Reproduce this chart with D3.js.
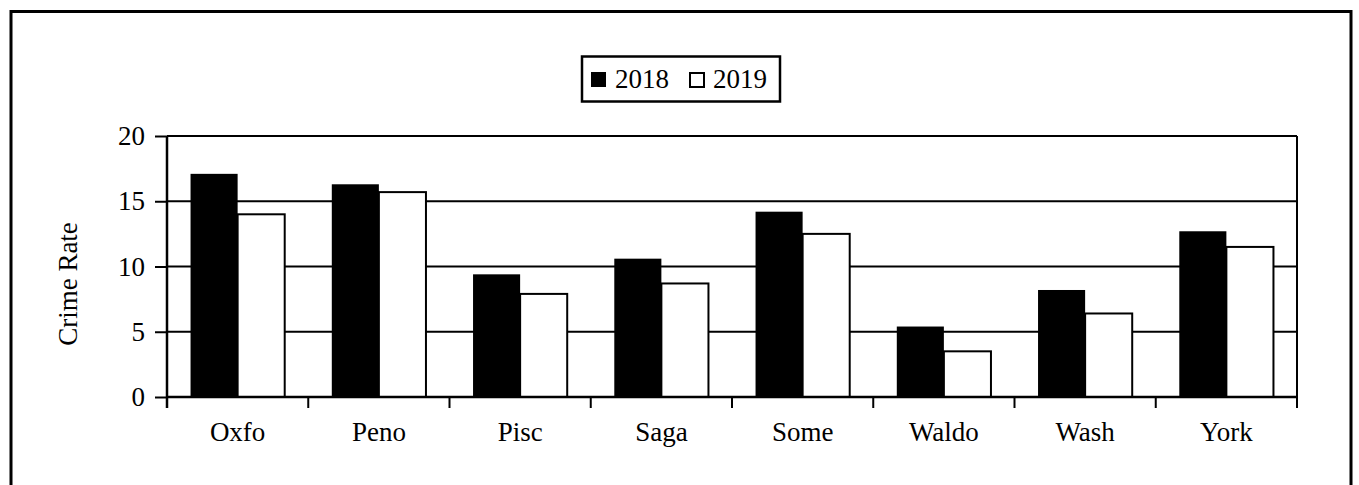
<!DOCTYPE html>
<html>
<head>
<meta charset="utf-8">
<script src="https://cdn.jsdelivr.net/npm/d3@7/dist/d3.min.js"></script>
<style>
  html, body { margin: 0; padding: 0; background: #fff; }
  svg { display: block; }
  text { font-family: "Liberation Serif", "Times New Roman", serif; fill: #000; }
</style>
</head>
<body>
<svg id="chart" width="1359" height="485"></svg>
<script>
const categories = ["Oxfo", "Peno", "Pisc", "Saga", "Some", "Waldo", "Wash", "York"];
const seriesNames = ["2018", "2019"];
const values2018 = [17.1, 16.3, 9.4, 10.6, 14.2, 5.4, 8.2, 12.7];
const values2019 = [14.0, 15.7, 7.9, 8.7, 12.5, 3.5, 6.4, 11.5];
const yTicks = [0, 5, 10, 15, 20];
const yLabel = "Crime Rate";

const seriesValues = [values2018, values2019];
const seriesFill = ["#000", "#fff"];

const svg = d3.select("#chart");
const W = 1359, H = 485;
const plot = { left: 167, top: 136, right: 1297, bottom: 397 };
const FS = 27;

// outer border
svg.append("rect")
  .attr("x", 11).attr("y", 11.5)
  .attr("width", 1340).attr("height", 520)
  .attr("fill", "none").attr("stroke", "#000").attr("stroke-width", 3);

const x = d3.scaleBand().domain(categories).range([plot.left, plot.right]).padding(0);
const bw = x.bandwidth();
const xs = d3.scaleBand().domain(seriesNames).range([bw / 6, bw * 5 / 6]).padding(0);
const y = d3.scaleLinear().domain([0, 20]).range([plot.bottom, plot.top]);

// gridlines
svg.append("g").selectAll("line").data(yTicks.filter(t => t > 0)).join("line")
  .attr("x1", plot.left).attr("x2", plot.right)
  .attr("y1", d => y(d)).attr("y2", d => y(d))
  .attr("stroke", "#000").attr("stroke-width", 2);

// right border of plot
svg.append("line")
  .attr("x1", plot.right).attr("x2", plot.right)
  .attr("y1", plot.top).attr("y2", plot.bottom)
  .attr("stroke", "#000").attr("stroke-width", 2);

// bars
const data = [];
categories.forEach((c, i) => {
  seriesNames.forEach((s, j) => data.push({ c, s, j, v: seriesValues[j][i] }));
});
svg.append("g").selectAll("rect").data(data).join("rect")
  .attr("x", d => x(d.c) + xs(d.s))
  .attr("y", d => y(d.v))
  .attr("width", xs.bandwidth())
  .attr("height", d => y(0) - y(d.v))
  .attr("fill", d => seriesFill[d.j])
  .attr("stroke", "#000")
  .attr("stroke-width", d => d.j === 0 ? 0 : 2);

// y axis
const yAxis = svg.append("g")
  .attr("transform", `translate(${plot.left},0)`)
  .call(d3.axisLeft(y).tickValues(yTicks).tickSize(12).tickPadding(10).tickSizeOuter(0));
yAxis.select(".domain").attr("stroke", "#000").attr("stroke-width", 2.5)
  .attr("d", `M0,${plot.top}V${plot.bottom + 11}`);
yAxis.selectAll(".tick line").attr("stroke", "#000").attr("stroke-width", 2);
yAxis.selectAll(".tick text").attr("font-size", FS).attr("font-family", "Liberation Serif");

// x axis
const xAxis = svg.append("g")
  .attr("transform", `translate(0,${plot.bottom})`)
  .call(d3.axisBottom(x).tickSize(0).tickPadding(25).tickSizeOuter(0));
xAxis.select(".domain").attr("stroke", "#000").attr("stroke-width", 2.5)
  .attr("d", `M${plot.left},0H${plot.right}`);
xAxis.selectAll(".tick text").attr("font-size", FS).attr("font-family", "Liberation Serif");

// category boundary ticks
const boundaries = categories.map(c => x(c)).concat([plot.right]);
svg.append("g").selectAll("line").data(boundaries).join("line")
  .attr("x1", d => d).attr("x2", d => d)
  .attr("y1", plot.bottom).attr("y2", plot.bottom + 11)
  .attr("stroke", "#000").attr("stroke-width", 2);

// top border of plot
svg.append("line")
  .attr("x1", plot.left).attr("x2", plot.right)
  .attr("y1", plot.top).attr("y2", plot.top)
  .attr("stroke", "#000").attr("stroke-width", 2);

// y label
svg.append("text")
  .attr("transform", `translate(77,284) rotate(-90)`)
  .attr("text-anchor", "middle")
  .attr("font-size", FS)
  .text(yLabel);

// legend
const lg = svg.append("g");
lg.append("rect")
  .attr("x", 582).attr("y", 56.5).attr("width", 198).attr("height", 45)
  .attr("fill", "#fff").attr("stroke", "#000").attr("stroke-width", 2.5);
const legendX = [591, 689];
seriesNames.forEach((s, j) => {
  lg.append("rect")
    .attr("x", legendX[j] + (j ? 1 : 0)).attr("y", 72 + (j ? 1 : 0))
    .attr("width", j ? 14 : 15).attr("height", j ? 14 : 15)
    .attr("fill", seriesFill[j]).attr("stroke", "#000").attr("stroke-width", j ? 2 : 0);
  lg.append("text")
    .attr("x", legendX[j] + 24).attr("y", 87.5)
    .attr("font-size", FS)
    .text(s);
});
</script>
</body>
</html>
